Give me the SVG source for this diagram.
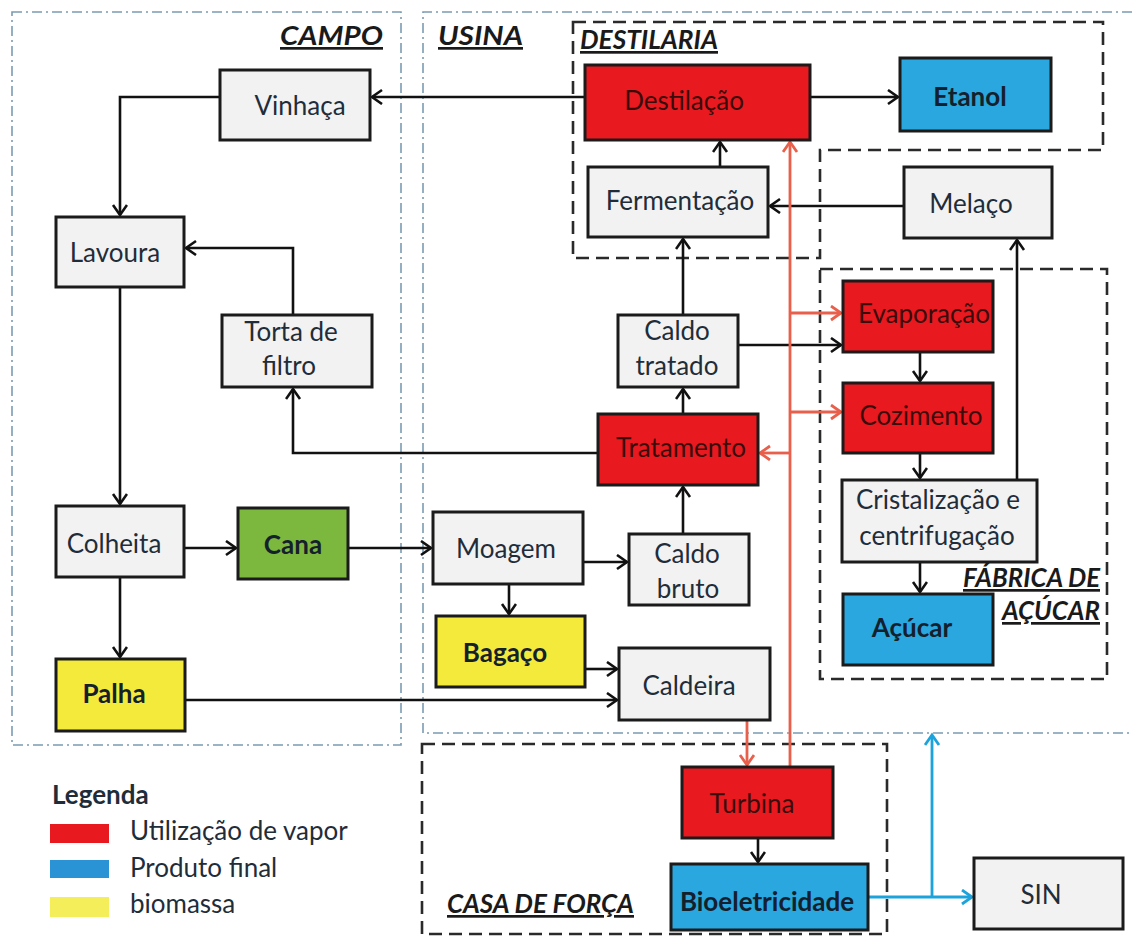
<svg xmlns="http://www.w3.org/2000/svg" width="1132" height="938" viewBox="0 0 1132 938">
  <style>
    .box { stroke: #1b1b1b; stroke-width: 3; }
    .gray { fill: #f2f2f2; }
    .red { fill: #e8191f; }
    .blue { fill: #2aa7df; }
    .green { fill: #7cb83e; }
    .yellow { fill: #f3ea3b; }
    .lbl { font-family: Lato, "Open Sans", "Liberation Sans", sans-serif; font-size: 26px; fill: #1f2d3a; text-anchor: middle; dominant-baseline: central; }
    .lbl.b { font-weight: bold; fill: #14202c; }
    .lbl.r { fill: #3a0c0c; }
    .region { fill: none; stroke: #7b9cb3; stroke-width: 1.6; stroke-dasharray: 10 4 2 4; }
    .area { fill: none; stroke: #2a2a2a; stroke-width: 2.6; stroke-dasharray: 13 7; }
    .title { font-family: Lato, "Open Sans", "Liberation Sans", sans-serif; font-size: 27px; font-weight: bold; font-style: italic; fill: #1a1a1a; text-decoration: underline; }
    .flow { fill: none; stroke: #111; stroke-width: 2.6; }
    .steam { fill: none; stroke: #e8604c; stroke-width: 2.8; }
    .power { fill: none; stroke: #1da3dc; stroke-width: 2.8; }
    .leg { font-family: Lato, "Open Sans", "Liberation Sans", sans-serif; font-size: 26px; fill: #1f2d3a; }
  </style>
  <defs>
    <marker id="ah" markerUnits="userSpaceOnUse" markerWidth="16" markerHeight="18" refX="11" refY="8" orient="auto">
      <path d="M1,1 L11,8 L1,15" fill="none" stroke="#111" stroke-width="2.6"/>
    </marker>
    <marker id="ahr" markerUnits="userSpaceOnUse" markerWidth="16" markerHeight="18" refX="11" refY="8" orient="auto">
      <path d="M1,1 L11,8 L1,15" fill="none" stroke="#e8604c" stroke-width="2.8"/>
    </marker>
    <marker id="ahb" markerUnits="userSpaceOnUse" markerWidth="16" markerHeight="18" refX="11" refY="8" orient="auto">
      <path d="M1,1 L11,8 L1,15" fill="none" stroke="#1da3dc" stroke-width="2.8"/>
    </marker>
  </defs>

  <rect width="1132" height="938" fill="#ffffff"/>

  <!-- regions -->
  <g id="regions">
    <rect class="region" x="12" y="12" width="389" height="733"/>
    <path class="region" d="M1132,12 H423 V733 H1132"/>
    <path class="area" d="M573,22 H1103 V150 H820 V258 H573 Z"/>
    <rect class="area" x="820" y="269" width="287" height="410"/>
    <rect class="area" x="422" y="744" width="465" height="190"/>
    <text class="title" x="280" y="45" textLength="103" lengthAdjust="spacingAndGlyphs">CAMPO</text>
    <text class="title" x="438" y="45" textLength="85" lengthAdjust="spacingAndGlyphs">USINA</text>
    <text class="title" x="580" y="49" textLength="138" lengthAdjust="spacingAndGlyphs">DESTILARIA</text>
    <text class="title" x="963" y="587" textLength="137" lengthAdjust="spacingAndGlyphs">FÁBRICA DE</text>
    <text class="title" x="1002" y="620" textLength="98" lengthAdjust="spacingAndGlyphs">AÇÚCAR</text>
    <text class="title" x="447" y="913" textLength="187" lengthAdjust="spacingAndGlyphs">CASA DE FORÇA</text>
  </g>

  <!-- connectors -->
  <g id="connectors">
    <path class="flow" marker-end="url(#ah)" d="M585,97 H372"/>
    <path class="flow" marker-end="url(#ah)" d="M220,97 H120 V215"/>
    <path class="flow" marker-end="url(#ah)" d="M293,315 V248 H186"/>
    <path class="flow" marker-end="url(#ah)" d="M120,287 V504"/>
    <path class="flow" marker-end="url(#ah)" d="M598,453 H293 V389"/>
    <path class="flow" marker-end="url(#ah)" d="M184,548 H236"/>
    <path class="flow" marker-end="url(#ah)" d="M120,577 V657"/>
    <path class="flow" marker-end="url(#ah)" d="M348,548 H431"/>
    <path class="flow" marker-end="url(#ah)" d="M185,700 H617"/>
    <path class="flow" marker-end="url(#ah)" d="M583,562 H627"/>
    <path class="flow" marker-end="url(#ah)" d="M509,584 V614"/>
    <path class="flow" marker-end="url(#ah)" d="M585,669 H617"/>
    <path class="flow" marker-end="url(#ah)" d="M683,534 V487"/>
    <path class="flow" marker-end="url(#ah)" d="M683,414 V389"/>
    <path class="flow" marker-end="url(#ah)" d="M683,315 V239"/>
    <path class="flow" marker-end="url(#ah)" d="M720,167 V142"/>
    <path class="flow" marker-end="url(#ah)" d="M904,206 H770"/>
    <path class="flow" marker-end="url(#ah)" d="M810,97 H898"/>
    <path class="flow" marker-end="url(#ah)" d="M738,345 H841"/>
    <path class="flow" marker-end="url(#ah)" d="M920,352 V381"/>
    <path class="flow" marker-end="url(#ah)" d="M920,453 V478"/>
    <path class="flow" marker-end="url(#ah)" d="M920,562 V592"/>
    <path class="flow" marker-end="url(#ah)" d="M1017,480 V240"/>
    <path class="flow" marker-end="url(#ah)" d="M758,838 V862"/>
    <path class="steam" marker-end="url(#ahr)" d="M747,720 V765"/>
    <path class="steam" marker-end="url(#ahr)" d="M790,767 V142"/>
    <path class="steam" marker-end="url(#ahr)" d="M790,313 H841"/>
    <path class="steam" marker-end="url(#ahr)" d="M790,412 H841"/>
    <path class="steam" marker-end="url(#ahr)" d="M790,453 H760"/>
    <path class="power" marker-end="url(#ahb)" d="M868,897 H972"/>
    <path class="power" marker-end="url(#ahb)" d="M932,897 V735"/>
  </g>

  <!-- nodes -->
  <g id="vinhaca"><rect class="box gray" x="220" y="70" width="150" height="70"/><text class="lbl" x="300" y="105">Vinhaça</text></g>
  <g id="lavoura"><rect class="box gray" x="56" y="217" width="128" height="70"/><text class="lbl" x="115" y="252">Lavoura</text></g>
  <g id="torta"><rect class="box gray" x="222" y="315" width="150" height="72"/><text class="lbl" x="291" y="331">Torta de</text><text class="lbl" x="289" y="365">filtro</text></g>
  <g id="colheita"><rect class="box gray" x="56" y="506" width="128" height="71"/><text class="lbl" x="114" y="543">Colheita</text></g>
  <g id="cana"><rect class="box green" x="238" y="508" width="110" height="71"/><text class="lbl b" x="293" y="544">Cana</text></g>
  <g id="palha"><rect class="box yellow" x="56" y="659" width="129" height="72"/><text class="lbl b" x="114" y="693">Palha</text></g>

  <g id="destilacao"><rect class="box red" x="585" y="65" width="225" height="75"/><text class="lbl r" x="684" y="100">Destilação</text></g>
  <g id="etanol"><rect class="box blue" x="900" y="58" width="151" height="73"/><text class="lbl b" x="970" y="96">Etanol</text></g>
  <g id="fermentacao"><rect class="box gray" x="588" y="167" width="180" height="70"/><text class="lbl" x="680" y="200">Fermentação</text></g>
  <g id="melaco"><rect class="box gray" x="904" y="167" width="148" height="71"/><text class="lbl" x="971" y="203">Melaço</text></g>
  <g id="caldo-tratado"><rect class="box gray" x="618" y="315" width="120" height="72"/><text class="lbl" x="677" y="330">Caldo</text><text class="lbl" x="677" y="365">tratado</text></g>
  <g id="tratamento"><rect class="box red" x="598" y="414" width="160" height="71"/><text class="lbl r" x="681" y="447">Tratamento</text></g>
  <g id="moagem"><rect class="box gray" x="433" y="512" width="150" height="72"/><text class="lbl" x="506" y="548">Moagem</text></g>
  <g id="caldo-bruto"><rect class="box gray" x="629" y="534" width="120" height="71"/><text class="lbl" x="687" y="553">Caldo</text><text class="lbl" x="688" y="588">bruto</text></g>
  <g id="bagaco"><rect class="box yellow" x="436" y="616" width="149" height="71"/><text class="lbl b" x="505" y="652">Bagaço</text></g>
  <g id="caldeira"><rect class="box gray" x="619" y="648" width="151" height="72"/><text class="lbl" x="689" y="685">Caldeira</text></g>

  <g id="evaporacao"><rect class="box red" x="843" y="281" width="150" height="71"/><text class="lbl r" x="924" y="313">Evaporação</text></g>
  <g id="cozimento"><rect class="box red" x="843" y="383" width="150" height="70"/><text class="lbl r" x="921" y="415">Cozimento</text></g>
  <g id="cristalizacao"><rect class="box gray" x="842" y="480" width="195" height="82"/><text class="lbl" x="938" y="499">Cristalização e</text><text class="lbl" x="937" y="535">centrifugação</text></g>
  <g id="acucar"><rect class="box blue" x="843" y="594" width="150" height="71"/><text class="lbl b" x="912" y="627">Açúcar</text></g>

  <g id="turbina"><rect class="box red" x="682" y="767" width="151" height="71"/><text class="lbl r" x="752" y="803">Turbina</text></g>
  <g id="bioeletricidade"><rect class="box blue" x="671" y="864" width="197" height="66"/><text class="lbl b" x="767" y="901">Bioeletricidade</text></g>
  <g id="sin"><rect class="box gray" x="974" y="858" width="149" height="71"/><text class="lbl" x="1041" y="894">SIN</text></g>

  <!-- legend -->
  <g id="legend">
    <text class="leg" x="52" y="804" font-weight="bold">Legenda</text>
    <rect x="50" y="824" width="59" height="19" fill="#e8191f"/>
    <text class="leg" x="130" y="840">Utilização de vapor</text>
    <rect x="50" y="860" width="59" height="18" fill="#2a93d5"/>
    <text class="leg" x="130" y="877">Produto final</text>
    <rect x="50" y="897" width="59" height="20" fill="#f3ee5a"/>
    <text class="leg" x="130" y="913">biomassa</text>
  </g>
</svg>
